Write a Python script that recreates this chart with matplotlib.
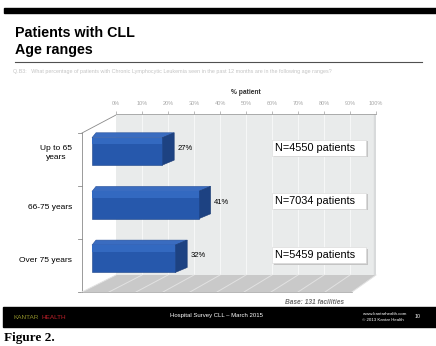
import matplotlib
matplotlib.use("Agg")
import matplotlib.pyplot as plt
import numpy as np
from matplotlib.patches import Polygon, Rectangle
from matplotlib.transforms import IdentityTransform

categories = ["Up to 65\nyears", "66-75 years", "Over 75 years"]
values = [27, 41, 32]
n_labels = ["N=4550 patients", "N=7034 patients", "N=5459 patients"]
tick_values = [0, 10, 20, 30, 40, 50, 60, 70, 80, 90, 100]
tick_labels = [f"{t}%" for t in tick_values]

W, H = 436, 346
fig = plt.figure(figsize=(W / 100, H / 100), dpi=100)
fig.patch.set_facecolor("white")

bg = fig.add_axes([0, 0, 1, 1])
bg.set_xlim(0, W)
bg.set_ylim(H, 0)
bg.axis("off")

def fx(px):
    return px / W

def fy(py):
    return 1 - py / H

FONT = ["Liberation Sans", "DejaVu Sans"]

bg.add_patch(Rectangle((4, 8), W - 4, 4.5, color="black", zorder=1))
bg.text(15, 33, "Patients with CLL", fontsize=10.3, fontweight="bold", family=FONT,
        va="center", ha="left")
bg.text(15, 50, "Age ranges", fontsize=10.3, fontweight="bold", family=FONT,
        va="center", ha="left")
bg.plot([15, 422], [62, 62], color="#505050", lw=0.8)
bg.text(13, 71.5, "Q.B3:   What percentage of patients with Chronic Lymphocytic Leukemia seen in the past 12 months are in the following age ranges?",
        fontsize=3.9, color="#c4c4c4", family=FONT, va="center", ha="left")

wall_l, wall_r, wall_t, wall_b = 116, 376, 114, 275
ax = fig.add_axes([fx(wall_l), fy(wall_b), (wall_r - wall_l) / W, (wall_b - wall_t) / H])
ax.set_facecolor("#e9ebeb")
ax.set_xlim(0, 100)
ypos = np.arange(len(categories))
ax.set_ylim(2.302, -0.698)
for s in ["left", "right", "bottom"]:
    ax.spines[s].set_visible(False)
ax.spines["top"].set_color("#a0a0a0")
ax.spines["top"].set_linewidth(0.6)
ax.xaxis.tick_top()
ax.set_xticks(tick_values)
ax.set_xticklabels(tick_labels, fontsize=4.0, color="#a8a8a8", family=FONT)
ax.tick_params(axis="x", length=2.5, width=0.5, color="#a0a0a0", pad=3, direction="out")
ax.set_yticks([])
ax.xaxis.set_label_position("top")
ax.set_xlabel("% patient", fontsize=4.8, family=FONT, labelpad=5, fontweight="bold", color="#303030")
for t in tick_values[1:]:
    ax.axvline(t, color="#f6f7f7", lw=0.8, zorder=0.5)
ax.axvspan(99.2, 100, color="#d8dadb", zorder=0.6)

fig.canvas.draw()

def disp(x, y, dx=0.0, dy=0.0):
    p = ax.transData.transform((x, y))
    return (p[0] + dx, p[1] + dy)

def pix(px, py):
    return (px, H - py)

bg.plot([82, 82], [133, 292], color="#8a8a8a", lw=0.6, zorder=2)
bg.plot([82, 116], [133, 115], color="#8a8a8a", lw=0.6, zorder=2)
for ty in [133, 186, 239, 292]:
    bg.plot([78, 82], [ty, ty], color="#8a8a8a", lw=0.6, zorder=2)

floor = Polygon([pix(82, 292), pix(116, 275), pix(376, 275), pix(352, 292)], closed=True,
                transform=IdentityTransform(), facecolor="#c9c9c9", edgecolor="none", zorder=1)
fig.add_artist(floor)
for t in tick_values:
    xb = disp(t, 0)[0]
    x0 = xb - 34 + (t / 100) * 10
    ln = plt.Line2D([x0, xb], [H - 292, H - 275], transform=IdentityTransform(), color="#e2e2e2", lw=0.7, zorder=1.1)
    fig.add_artist(ln)
fig.add_artist(plt.Line2D([82, 352], [H - 292.3, H - 292.3], transform=IdentityTransform(), color="#9a9a9a", lw=0.5, zorder=1.2))

h = 0.51
FX, BXL, BXR, BY = -24, -20, -12, 5
for i, v in enumerate(values):
    yt, yb = ypos[i] - h / 2, ypos[i] + h / 2
    fl_t = disp(0, yt, FX)
    fr_t = disp(v, yt, FX)
    fr_b = disp(v, yb, FX)
    fl_b = disp(0, yb, FX)
    bl_t = disp(0, yt, BXL, BY)
    br_t = disp(v, yt, BXR, BY)
    br_b = disp(v, yb, BXR, BY)
    top = Polygon([fl_t, fr_t, br_t, bl_t], closed=True, transform=IdentityTransform(),
                  facecolor="#3a6cc0", edgecolor="#264f98", lw=0.4, zorder=3)
    side = Polygon([fr_t, br_t, br_b, fr_b], closed=True, transform=IdentityTransform(),
                   facecolor="#1d4282", edgecolor="#1a3a74", lw=0.4, zorder=3)
    fig.add_artist(top)
    fig.add_artist(side)
    front = Polygon([fl_t, fr_t, fr_b, fl_b], closed=True, transform=IdentityTransform(),
                    facecolor="#2658ac", edgecolor="#1c4488", lw=0.4, zorder=3.2)
    fig.add_artist(front)
    hl = Polygon([fl_t, fr_t, disp(v, yt + 0.12, FX), disp(0, yt + 0.12, FX)], closed=True,
                 transform=IdentityTransform(), facecolor="#3369c0", edgecolor="none", zorder=3.3)
    fig.add_artist(hl)
    lx, ly = disp(v, ypos[i], BXR + 3, 3)
    fig.text(lx / W, ly / H, f"{v}%", fontsize=5.5, family=FONT, va="center", ha="left", zorder=5)

for i, c in enumerate(categories):
    _, ly = disp(0, ypos[i], 0, 0)
    fig.text(72 / W, (ly - 2) / H, c, fontsize=6, family=FONT, va="center", ha="right",
             multialignment="center", linespacing=1.4)

for i, nl in enumerate(n_labels):
    _, cy = disp(0, ypos[i], 0, 0)
    cy = cy + [3.5, 4.5, 3.5][i]
    x0, x1 = 272, 366
    bh = 16
    shadow = Rectangle((x0 + 1.5, cy - bh / 2 - 1.5), x1 - x0, bh, transform=IdentityTransform(),
                       facecolor="#c4c4c4", edgecolor="none", zorder=4)
    box = Rectangle((x0, cy - bh / 2), x1 - x0, bh, transform=IdentityTransform(),
                    facecolor="white", edgecolor="#d6d6d6", lw=0.4, zorder=4.1)
    fig.add_artist(shadow)
    fig.add_artist(box)
    fig.text((x0 + 3) / W, cy / H, nl, fontsize=7.8, family=FONT, va="center", ha="left", zorder=5)

bg.text(314, 302, "Base: 131 facilities", fontsize=4.8, family=FONT, style="italic",
        fontweight="bold", color="#707070", ha="center", va="center")

bg.add_patch(Rectangle((3, 307), W - 3, 20, color="black", zorder=1))
bg.text(13, 317.5, "KANTAR", fontsize=4.6, family=FONT, color="#8e8e2a", ha="left", va="center", zorder=2)
bg.text(41, 317.5, "HEALTH", fontsize=4.6, family=FONT, color="#c0202a", ha="left", va="center", zorder=2)
bg.text(216, 316, "Hospital Survey CLL \u2013 March 2015", fontsize=4.3, family=FONT, color="white",
        ha="center", va="center", zorder=2)
bg.text(385, 314, "www.kantarhealth.com", fontsize=3.2, family=FONT, color="white", ha="center", va="center", zorder=2)
bg.text(383, 320, "\u00a9 2013 Kantar Health", fontsize=3.2, family=FONT, color="white", ha="center", va="center", zorder=2)
bg.text(418, 317, "10", fontsize=3.8, family=FONT, color="white", ha="center", va="center", zorder=2)

bg.text(4, 337.5, "Figure 2.", fontsize=9.5, fontweight="bold", family=["Liberation Serif", "DejaVu Serif"],
        ha="left", va="center")

fig.savefig("out.png", dpi=100, facecolor="white")
